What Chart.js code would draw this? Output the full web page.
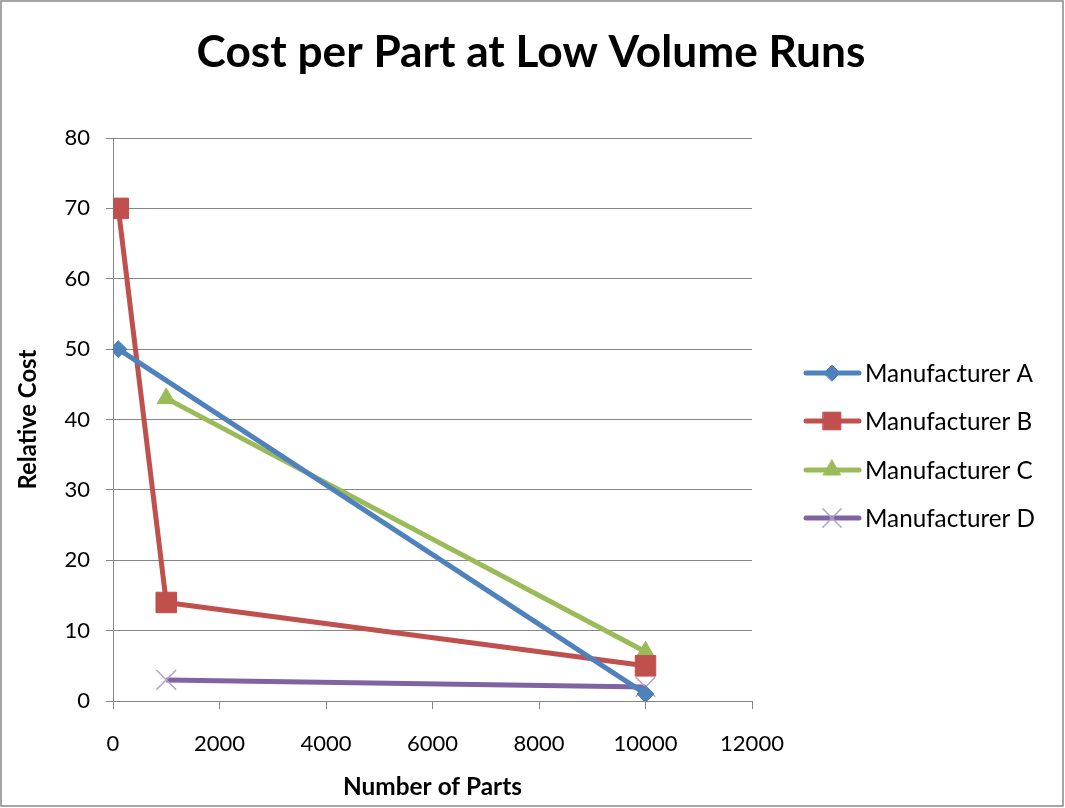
<!DOCTYPE html>
<html><head><meta charset="utf-8">
<script src="https://cdn.jsdelivr.net/npm/chart.js@4/dist/chart.umd.min.js"></script>
<style>
html,body{margin:0;padding:0;background:#fff;}
#wrap{position:relative;width:1065px;height:808px;}
</style></head>
<body><div id="wrap"><canvas id="c" width="1065" height="808"></canvas></div>
<script>
const titleText = 'Cost per Part at Low Volume Runs';
const xTitle = 'Number of Parts';
const yTitle = 'Relative Cost';
const seriesNames = ['Manufacturer A', 'Manufacturer B', 'Manufacturer C', 'Manufacturer D'];
const aX = [100, 10000];        const aY = [50, 1];
const bX = [100, 1000, 10000];  const bY = [70, 14, 5];
const cX = [1000, 10000];       const cY = [43, 7];
const dX = [1000, 10000];       const dY = [3, 2];
const xMin = 0, xMax = 12000, xStep = 2000;
const yMin = 0, yMax = 80, yStep = 10;

const FAM = 'Lato, "Open Sans", sans-serif';
const colors = ['#4F81BD', '#C0504D', '#9BBB59', '#8064A2'];
const markerColors = ['#4F81BD', '#C0504D', '#9BBB59', '#B3A2C7'];
const styles = ['rectRot', 'rect', 'triangle', 'crossRot'];
const radii = [8.5, 14.5, 10.5, 14];
const legendRadii = [8, 12.5, 10, 13];

function pts(xs, ys){ return xs.map((x,i)=>({x:x, y:ys[i]})); }
const allData = [pts(aX,aY), pts(bX,bY), pts(cX,cY), pts(dX,dY)];

const datasets = allData.map((d,i)=>({
  label: seriesNames[i],
  data: d,
  showLine: true,
  borderColor: colors[i],
  borderWidth: 5,
  pointStyle: styles[i],
  pointRadius: radii[i],
  pointHoverRadius: radii[i],
  pointBackgroundColor: markerColors[i],
  pointBorderColor: markerColors[i],
  pointBorderWidth: i===3 ? 1.5 : 1,
  fill: false,
  tension: 0
}));

function fit(ctx, text, weight, target){
  let s = 20;
  ctx.font = weight + ' ' + s + 'px ' + FAM;
  const w = ctx.measureText(text).width;
  return s * target / w;
}

const deco = {
  id: 'deco',
  afterDraw(chart){
    const ctx = chart.ctx;
    const ca = chart.chartArea;
    ctx.save();
    ctx.fillStyle = '#000';
    ctx.textBaseline = 'middle';
    let s = fit(ctx, titleText, 'bold', 669);
    ctx.font = 'bold ' + s + 'px ' + FAM;
    ctx.textAlign = 'center';
    ctx.fillText(titleText, 531, 53);
    s = fit(ctx, xTitle, 'bold', 179);
    ctx.font = 'bold ' + s + 'px ' + FAM;
    ctx.fillText(xTitle, (ca.left+ca.right)/2, 787);
    s = fit(ctx, yTitle, 'bold', 140);
    ctx.font = 'bold ' + s + 'px ' + FAM;
    ctx.translate(28, (ca.top+ca.bottom)/2);
    ctx.rotate(-Math.PI/2);
    ctx.fillText(yTitle, 0, 0);
    ctx.restore();
    ctx.save();
    const rows = [373, 421, 470, 518];
    s = fit(ctx, seriesNames[0], 'normal', 168);
    for (let i=0;i<4;i++){
      const y = rows[i];
      ctx.strokeStyle = colors[i];
      ctx.lineWidth = 5;
      ctx.lineCap = 'round';
      ctx.beginPath(); ctx.moveTo(806, y); ctx.lineTo(859, y); ctx.stroke();
      ctx.fillStyle = markerColors[i];
      ctx.strokeStyle = markerColors[i];
      ctx.lineWidth = i===3 ? 1.5 : 1;
      Chart.helpers.drawPoint(ctx, {pointStyle: styles[i], radius: legendRadii[i], rotation: 0, borderWidth: i===3?1.5:1}, 832, y);
      ctx.fillStyle = '#000';
      ctx.font = 'normal ' + s + 'px ' + FAM;
      ctx.textAlign = 'left';
      ctx.textBaseline = 'middle';
      ctx.fillText(seriesNames[i], 865, y + 1);
    }
    ctx.restore();
    ctx.save();
    ctx.strokeStyle = '#888';
    ctx.lineWidth = 1.5;
    ctx.strokeRect(1, 1, 1062, 805);
    ctx.restore();
  }
};

new Chart(document.getElementById('c'), {
  type: 'scatter',
  data: { datasets },
  options: {
    responsive: false,
    animation: false,
    events: [],
    layout: { padding: { left: 0, right: 313, top: 138, bottom: 0 } },
    plugins: { legend: { display: false }, title: { display: false }, tooltip: { enabled: false } },
    scales: {
      x: {
        type: 'linear', min: xMin, max: xMax,
        afterFit(scale){ scale.height = 107; },
        ticks: { stepSize: xStep, color: '#000', font: { family: FAM, size: 22 }, padding: 22, maxRotation: 0, autoSkip: false,
                 callback: v => String(v) },
        grid: { drawOnChartArea: false, drawTicks: true, tickLength: 8, color: '#868686', lineWidth: 1 },
        border: { display: true, color: '#868686', width: 1 }
      },
      y: {
        type: 'linear', min: yMin, max: yMax,
        afterFit(scale){ scale.width = 113; },
        ticks: { stepSize: yStep, color: '#000', font: { family: FAM, size: 22 }, padding: 16, autoSkip: false,
                 callback: v => String(v) },
        grid: { drawOnChartArea: true, drawTicks: true, tickLength: 7, color: '#868686', lineWidth: 1 },
        border: { display: true, color: '#868686', width: 1 }
      }
    }
  },
  plugins: [deco]
});
</script></body></html>
